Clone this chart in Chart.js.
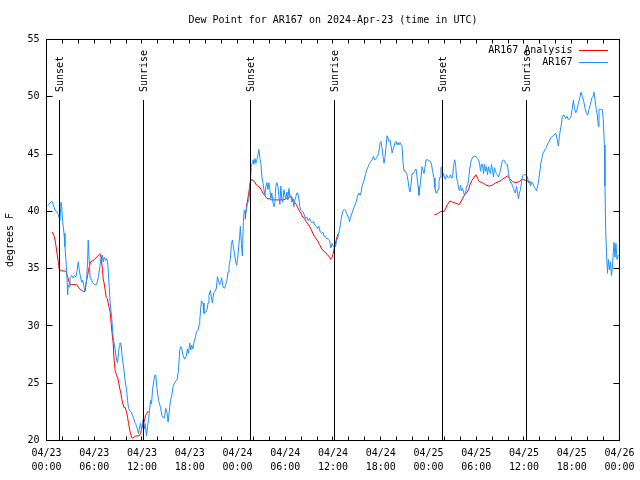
<!DOCTYPE html>
<html>
  <head>
    <meta charset="UTF-8">
    <style>html,body{margin:0;padding:0;background:#fff}</style>
  </head>
  <body>
    <div style="width:640px;height:480px"><canvas id="dewpoint" width="640" height="480"></canvas></div>

    <script src="https://cdn.jsdelivr.net/npm/chart.js@4.4.0/dist/chart.umd.min.js"></script>

    <script type="text/javascript">

      const TITLE = 'Dew Point for AR167 on 2024-Apr-23 (time in UTC)';
      const Y_TITLE = 'degrees F';
      const Y_MIN = 20, Y_MAX = 55, Y_STEP = 5;
      const X_MAX = 72;   // hours after 04/23 00:00
      const X_STEP = 6;
      const dayLabels = ['04/23', '04/24', '04/25', '04/26'];

      // hour of each sun event, and its text
      const sunTimes = [1.69, 12.23, 25.65, 36.19, 49.74, 60.27];
      const sunLabels = ['Sunset', 'Sunrise', 'Sunset', 'Sunrise', 'Sunset', 'Sunrise'];

      // [hour, deg F]; null = gap in the analysis line
      const analysisPoints = [
        [0.73,38.2],[0.98,37.8],[1.10,37.4],[1.23,36.8],[1.35,36.2],[1.48,35.6],[1.61,34.9],[1.91,34.8],[2.32,34.8],[2.48,34.7],
        [2.61,34.4],[2.73,34.1],[2.95,33.6],[3.79,33.6],[3.99,33.4],[4.20,33.2],[4.42,33.1],[4.62,33.0],[4.83,33.0],[4.92,33.4],
        [5.04,34.0],[5.17,34.4],[5.29,34.9],[5.42,35.3],[5.54,35.6],[5.87,35.7],[6.30,36.0],[6.71,36.3],[6.84,36.0],[6.92,35.6],
        [7.05,34.9],[7.12,34.1],[7.25,33.7],[7.38,33.1],[7.50,32.5],[7.63,32.4],[7.75,32.0],[7.88,31.6],[8.00,31.2],[8.13,30.2],
        [8.25,29.3],[8.38,28.5],[8.50,27.0],[8.63,26.1],[8.81,25.7],[8.97,25.4],[9.09,25.0],[9.22,24.5],[9.35,24.1],[9.47,23.6],
        [9.60,23.2],[9.72,22.9],[9.88,22.9],[10.06,22.5],[10.19,22.0],[10.31,21.5],[10.44,21.0],[10.56,20.6],[10.69,20.3],[10.81,20.2],
        [11.01,20.3],[11.23,20.4],[11.64,20.4],[11.82,20.6],[11.94,21.0],[12.07,21.3],[12.19,21.5],[12.32,21.7],[12.44,22.2],[12.57,22.3],
        [12.69,22.5],[12.86,22.5],
        [18,null],
        [24.96,39.3],[25.15,40.5],[25.40,41.5],[25.59,42.5],[25.78,42.8],[25.94,42.7],[26.15,42.6],[26.37,42.3],[26.57,42.2],[26.78,42.1],
        [26.99,41.9],[27.20,41.6],[27.41,41.4],[27.62,41.2],[27.82,41.1],[28.04,41.1],[28.25,41.0],[29.70,41.0],[30.13,41.1],[30.54,41.2],
        [30.75,41.3],[30.96,41.1],[31.17,40.8],[31.39,40.6],[31.59,40.3],[31.80,40.0],[32.01,39.8],[32.21,39.5],[32.43,39.4],[32.64,39.1],
        [32.84,38.9],[33.05,38.7],[33.27,38.4],[33.47,38.1],[33.68,37.8],[33.89,37.6],[34.09,37.4],[34.31,37.1],[34.52,36.8],[34.72,36.6],
        [34.93,36.5],[35.15,36.3],[35.35,36.2],[35.56,36.0],[35.73,35.8],[35.85,35.9],[35.98,36.2],[36.10,36.6],[36.23,37.0],[36.40,37.5],
        [36.52,37.8],[36.69,38.1],
        [42,null],
        [48.73,39.7],[49.15,39.8],[49.57,40.0],[49.99,40.0],[50.20,40.3],[50.40,40.6],[50.70,40.9],[51.03,40.8],[51.45,40.7],[51.87,40.6],
        [52.21,41.0],[52.50,41.4],[52.79,41.6],[53.04,41.9],[53.21,42.3],[53.46,42.7],[53.75,43.0],[53.96,43.2],[54.17,42.9],[54.38,42.6],
        [54.79,42.5],[55.22,42.3],[55.63,42.2],[56.05,42.3],[56.47,42.5],[56.89,42.6],[57.30,42.8],[57.73,43.0],[57.93,43.1],[58.14,42.9],
        [58.56,42.6],[58.98,42.5],[59.40,42.6],[59.81,42.8],[60.24,42.7],[60.65,42.6],[60.99,42.5]
      ];

      const stationPoints = [
        [0.15,40.5],[0.65,40.9],[0.85,40.6],[1.07,40.1],[1.28,40.0],[1.48,39.7],[1.69,39.2],[1.82,40.8],[1.91,40.4],[2.03,39.1],
        [2.20,38.1],[2.32,36.9],[2.45,35.7],[2.57,34.3],[2.66,32.7],[2.73,33.6],[2.86,33.4],[2.95,34.2],[3.16,34.4],[3.36,34.2],
        [3.49,34.4],[3.70,34.3],[3.86,34.9],[3.99,35.6],[4.11,34.9],[4.29,34.2],[4.42,33.8],[4.54,34.0],[4.67,33.6],[4.79,33.1],
        [4.92,33.4],[5.04,34.0],[5.17,35.7],[5.24,37.5],[5.37,35.7],[5.49,34.2],[5.67,34.0],[5.87,33.7],[6.08,33.6],[6.30,33.6],
        [6.50,34.2],[6.71,35.2],[6.84,35.9],[7.00,36.2],[7.12,35.6],[7.25,36.0],[7.43,35.7],[7.55,35.9],[7.68,35.6],[7.75,34.9],
        [7.88,33.4],[8.00,32.0],[8.18,30.8],[8.38,29.0],[8.50,28.5],[8.63,27.9],[8.81,27.0],[8.93,26.8],[9.06,27.7],[9.13,28.2],
        [9.22,28.5],[9.35,28.5],[9.47,27.6],[9.63,26.7],[9.76,26.0],[9.88,25.2],[10.06,24.4],[10.19,23.5],[10.31,22.8],[10.47,22.6],
        [10.64,22.5],[10.81,22.2],[10.98,21.9],[11.14,21.5],[11.31,21.3],[11.44,20.9],[11.57,20.6],[11.69,21.2],[11.82,21.5],[11.94,20.9],
        [12.07,21.5],[12.14,21.8],[12.27,21.0],[12.39,21.5],[12.57,20.4],[12.69,21.2],[12.82,21.8],[12.95,22.6],[13.07,23.5],[13.20,23.2],
        [13.32,24.4],[13.48,25.2],[13.61,25.7],[13.74,25.7],[13.86,24.7],[14.02,23.8],[14.15,23.3],[14.33,22.9],[14.49,22.2],[14.65,22.0],
        [14.83,22.0],[14.99,22.8],[15.15,22.4],[15.28,21.6],[15.40,22.4],[15.58,23.5],[15.74,23.9],[15.91,24.7],[16.08,25.0],[16.24,25.2],
        [16.41,25.3],[16.58,26.1],[16.75,27.9],[16.87,28.2],[17.00,28.0],[17.16,27.4],[17.37,27.1],[17.59,27.4],[17.71,28.0],[17.84,27.6],
        [18.00,28.5],[18.13,27.9],[18.25,28.3],[18.41,28.0],[18.54,28.6],[18.72,29.0],[18.84,29.5],[19.04,29.6],[19.17,30.1],[19.26,30.5],
        [19.47,32.2],[19.67,32.0],[19.79,31.1],[20.01,31.2],[20.17,31.4],[20.30,32.0],[20.42,32.7],[20.60,33.1],[20.72,32.5],[20.85,32.0],
        [21.01,32.9],[21.17,33.0],[21.35,33.3],[21.48,34.3],[21.60,34.0],[21.76,33.6],[21.89,33.8],[22.01,34.2],[22.18,33.4],[22.39,33.3],
        [22.52,33.6],[22.68,34.0],[22.81,34.7],[22.93,35.2],[23.11,35.9],[23.23,37.1],[23.36,37.5],[23.48,36.9],[23.65,36.2],[23.77,35.6],
        [23.90,35.3],[24.02,35.9],[24.15,36.9],[24.27,37.8],[24.36,38.7],[24.49,37.2],[24.61,36.1],[24.74,39.1],[24.86,40.1],[24.99,39.7],
        [25.11,40.1],[25.24,40.7],[25.44,41.0],[25.61,42.5],[25.74,44.1],[25.87,44.2],[25.94,44.5],[26.07,44.1],[26.19,44.6],[26.32,44.2],
        [26.44,44.5],[26.57,44.9],[26.69,45.4],[26.82,44.6],[26.94,44.2],[27.07,43.0],[27.20,42.5],[27.32,41.9],[27.45,41.4],[27.57,42.2],
        [27.70,42.5],[27.82,41.9],[27.95,42.5],[28.07,41.9],[28.20,41.1],[28.32,41.6],[28.45,40.8],[28.58,40.4],[28.70,40.8],[28.83,42.2],
        [28.95,42.5],[29.08,42.2],[29.20,41.3],[29.33,40.6],[29.45,42.2],[29.58,41.0],[29.70,40.8],[29.83,41.9],[29.96,41.4],[30.08,41.1],
        [30.21,41.7],[30.33,41.0],[30.46,42.0],[30.58,41.3],[30.71,41.4],[30.83,40.8],[30.96,41.1],[31.08,40.4],[31.21,41.0],[31.34,41.3],
        [31.46,41.6],[31.59,41.6],[31.71,41.1],[31.84,40.4],[31.96,40.1],[32.09,40.0],[32.21,40.0],[32.39,39.7],[32.55,39.4],[32.72,39.5],
        [32.89,39.2],[33.05,39.4],[33.22,39.1],[33.39,39.0],[33.56,39.1],[33.72,38.8],[33.89,38.7],[34.06,38.5],[34.22,38.7],[34.40,38.2],
        [34.56,38.1],[34.72,38.2],[34.90,37.8],[35.06,37.8],[35.22,37.6],[35.40,37.6],[35.56,37.5],[35.73,36.8],[35.90,37.2],[36.06,36.9],
        [36.19,36.9],[36.31,36.9],[36.48,37.5],[36.65,37.8],[36.82,38.4],[36.94,38.9],[37.07,39.5],[37.23,40.0],[37.41,40.2],[37.57,40.1],
        [37.73,39.8],[37.98,39.4],[38.07,39.1],[38.32,39.7],[38.61,40.3],[38.91,40.8],[39.07,41.3],[39.24,41.6],[39.41,41.4],[39.54,41.7],
        [39.66,42.2],[39.91,42.7],[40.08,43.2],[40.24,43.6],[40.42,43.9],[40.58,44.2],[40.92,44.5],[41.08,44.8],[41.25,44.5],[41.42,44.6],
        [41.58,44.8],[41.75,45.1],[41.92,46.0],[42.04,46.1],[42.17,45.5],[42.29,44.8],[42.42,44.2],[42.55,44.8],[42.67,45.7],[42.80,46.6],
        [42.92,46.4],[43.05,46.1],[43.18,46.2],[43.30,45.7],[43.43,45.1],[43.55,45.4],[43.68,45.7],[43.80,46.0],[43.93,46.1],[44.06,45.8],
        [44.18,46.0],[44.31,45.8],[44.43,46.0],[44.56,45.8],[44.68,45.7],[44.81,44.2],[44.93,43.5],[45.10,43.5],[45.26,43.3],[45.43,42.7],
        [45.56,42.0],[45.68,41.7],[45.81,42.3],[45.94,43.3],[46.10,43.3],[46.26,43.5],[46.44,43.7],[46.56,43.0],[46.69,42.2],[46.81,41.4],
        [46.94,42.2],[47.07,43.0],[47.19,43.9],[47.32,43.6],[47.44,43.3],[47.57,43.9],[47.70,44.5],[47.86,44.5],[48.02,44.4],[48.20,44.4],
        [48.36,44.2],[48.52,43.5],[48.70,42.9],[48.82,42.0],[48.95,41.6],[49.07,41.7],[49.20,41.9],[49.32,42.6],[49.45,43.0],[49.57,43.8],
        [49.70,43.9],[49.77,43.0],[49.90,43.3],[50.02,42.9],[50.15,42.8],[50.27,43.2],[50.40,43.0],[50.52,42.9],[50.65,43.0],[50.78,43.2],
        [50.90,42.9],[51.03,43.0],[51.15,43.9],[51.28,44.5],[51.40,44.2],[51.53,42.9],[51.66,42.6],[51.78,42.0],[51.91,41.8],[52.03,42.3],
        [52.16,41.8],[52.28,42.0],[52.41,41.7],[52.53,41.4],[52.66,41.6],[52.79,42.2],[52.91,42.2],[53.04,42.8],[53.16,43.6],[53.29,44.2],
        [53.41,44.5],[53.54,44.7],[53.75,44.8],[53.96,44.8],[54.17,44.6],[54.29,44.5],[54.42,44.2],[54.54,43.5],[54.67,44.1],[54.79,44.1],
        [54.92,43.3],[55.04,44.1],[55.17,43.5],[55.29,43.9],[55.42,43.2],[55.55,43.9],[55.67,43.5],[55.80,43.3],[55.92,44.1],[56.05,43.6],
        [56.17,43.0],[56.30,43.8],[56.42,43.5],[56.55,43.3],[56.67,43.2],[56.80,43.0],[56.93,43.3],[57.05,43.6],[57.18,44.1],[57.30,44.4],
        [57.43,44.5],[57.55,44.4],[57.68,44.2],[57.80,44.1],[57.93,44.1],[58.06,43.3],[58.18,42.8],[58.31,42.5],[58.43,42.5],[58.56,42.2],
        [58.68,42.0],[58.81,41.7],[58.93,41.6],[59.06,42.2],[59.18,41.7],[59.31,41.1],[59.43,41.6],[59.56,41.9],[59.69,42.5],[59.81,43.1],
        [59.99,43.2],[60.15,43.2],[60.32,43.1],[60.44,43.0],[60.57,42.5],[60.69,42.6],[60.82,42.2],[60.94,42.5],[61.07,42.5],[61.24,42.2],
        [61.41,42.0],[61.57,41.8],[61.75,42.3],[61.87,42.8],[62.12,44.2],[62.41,45.1],[62.75,45.5],[63.07,46.0],[63.37,46.4],[63.66,46.6],
        [64.00,46.8],[64.20,46.2],[64.32,45.7],[64.50,46.8],[64.66,47.4],[64.83,48.3],[65.04,48.4],[65.25,48.1],[65.42,48.3],[65.58,48.0],
        [65.76,48.1],[65.92,48.3],[66.08,49.0],[66.21,49.7],[66.33,49.1],[66.51,48.6],[66.67,48.9],[66.83,49.4],[67.01,49.9],[67.17,50.4],
        [67.34,50.0],[67.51,49.6],[67.68,49.0],[67.84,48.6],[68.02,48.4],[68.18,48.9],[68.34,49.3],[68.52,49.9],[68.68,50.0],[68.81,50.4],
        [68.93,49.7],[69.09,48.9],[69.22,48.4],[69.35,47.4],[69.43,48.9],[69.64,48.9],[69.84,48.9],[69.97,48.0],[70.10,45.8],[70.18,42.2],
        [70.27,38.4],[70.37,36.5],[70.50,34.6],[70.62,35.8],[70.75,34.9],[70.87,35.6],[71.00,34.4],[71.12,35.2],[71.31,37.3],[71.44,36.0],
        [71.56,37.2],[71.69,35.8],[71.87,36.2]
      ];

      const FONT = { family: "'DejaVu Sans Mono', monospace", size: 10, weight: 'normal' };
      Chart.defaults.font = FONT;
      Chart.defaults.color = '#000';

      function toXY(points) {
        return points.map(p => ({ x: p[0], y: p[1] }));
      }

      // frame, inward ticks, sunrise/sunset markers and the legend
      const gnuplotBits = {
        id: 'gnuplotBits',
        afterDraw(chart) {
          const ctx = chart.ctx;
          const a = chart.chartArea;
          const xs = chart.scales.x, ys = chart.scales.y;
          const h = a.bottom - a.top;
          ctx.save();
          ctx.strokeStyle = '#000';
          ctx.lineWidth = 1;
          ctx.beginPath();
          for (let t = 0; t <= X_MAX; t += 2) {
            const px = Math.floor(xs.getPixelForValue(t)) + 0.5;
            ctx.moveTo(px, a.bottom); ctx.lineTo(px, a.bottom - 4);
            ctx.moveTo(px, a.top); ctx.lineTo(px, a.top + 4);
          }
          for (let v = Y_MIN; v <= Y_MAX; v += Y_STEP) {
            const py = Math.floor(ys.getPixelForValue(v)) + 0.5;
            ctx.moveTo(a.left, py); ctx.lineTo(a.left + 6, py);
            ctx.moveTo(a.right, py); ctx.lineTo(a.right - 6, py);
          }
          // sun lines go up to 85% of the plot height
          const lineTop = Math.round(a.bottom - 0.85 * h);
          sunTimes.forEach(t => {
            const px = Math.floor(xs.getPixelForValue(t)) + 0.5;
            ctx.moveTo(px, a.bottom); ctx.lineTo(px, lineTop);
          });
          ctx.stroke();
          ctx.strokeRect(a.left, a.top, a.right - a.left, a.bottom - a.top);

          ctx.fillStyle = '#000';
          ctx.font = "10px 'DejaVu Sans Mono', monospace";
          sunTimes.forEach((t, i) => {
            const px = Math.floor(xs.getPixelForValue(t)) + 1.5;
            ctx.save();
            ctx.translate(px, lineTop - 8);
            ctx.rotate(-Math.PI / 2);
            ctx.textAlign = 'left';
            ctx.textBaseline = 'middle';
            ctx.fillText(sunLabels[i], 0, 0);
            ctx.restore();
          });

          // legend, top right inside the frame
          ctx.textAlign = 'right';
          ctx.textBaseline = 'middle';
          chart.data.datasets.forEach((ds, i) => {
            const y = a.top + 10.5 + i * 12;
            ctx.fillStyle = '#000';
            ctx.fillText(ds.label, a.right - 47, y + 0.5);
            ctx.strokeStyle = ds.borderColor;
            ctx.beginPath();
            ctx.moveTo(a.right - 40.5, Math.floor(y) + 0.5);
            ctx.lineTo(a.right - 11.5, Math.floor(y) + 0.5);
            ctx.stroke();
          });
          ctx.restore();
        }
      };

      new Chart(document.getElementById('dewpoint'), {
        type: 'line',
        data: {
          datasets: [
            {
              label: 'AR167 Analysis',
              data: toXY(analysisPoints),
              borderColor: '#ff0000',
              borderWidth: 1,
              pointRadius: 0,
              tension: 0,
              spanGaps: false,
              order: 1
            },
            {
              label: 'AR167',
              data: toXY(stationPoints),
              borderColor: '#1e90ff',
              borderWidth: 1,
              pointRadius: 0,
              tension: 0,
              order: 0
            }
          ]
        },
        options: {
          responsive: false,
          animation: false,
          events: [],
          layout: { padding: { left: 0, right: 18.5, top: 0, bottom: 0 } },
          plugins: {
            legend: { display: false },
            tooltip: { enabled: false },
            title: {
              display: true,
              fullSize: false,
              text: TITLE,
              color: '#000',
              font: FONT,
              padding: { top: 14, bottom: 13.5 }
            }
          },
          scales: {
            x: {
              type: 'linear',
              min: 0,
              max: X_MAX,
              grid: { display: false, drawTicks: false },
              border: { display: false },
              ticks: {
                stepSize: X_STEP,
                autoSkip: false,
                maxRotation: 0,
                padding: 5.5,
                font: { family: FONT.family, size: 10, lineHeight: 1.4 },
                callback: v => [dayLabels[Math.floor(v / 24)], String(v % 24).padStart(2, '0') + ':00']
              },
              afterFit(scale) { scale.height = 39.5; }
            },
            y: {
              min: Y_MIN,
              max: Y_MAX,
              grid: { display: false, drawTicks: false },
              border: { display: false },
              ticks: { stepSize: Y_STEP, padding: 7 },
              title: { display: true, text: Y_TITLE, padding: { top: 4, bottom: 0 } },
              afterFit(scale) { scale.width = 46.5; }
            }
          }
        },
        plugins: [gnuplotBits]
      });

    </script>
  </body>
</html>
